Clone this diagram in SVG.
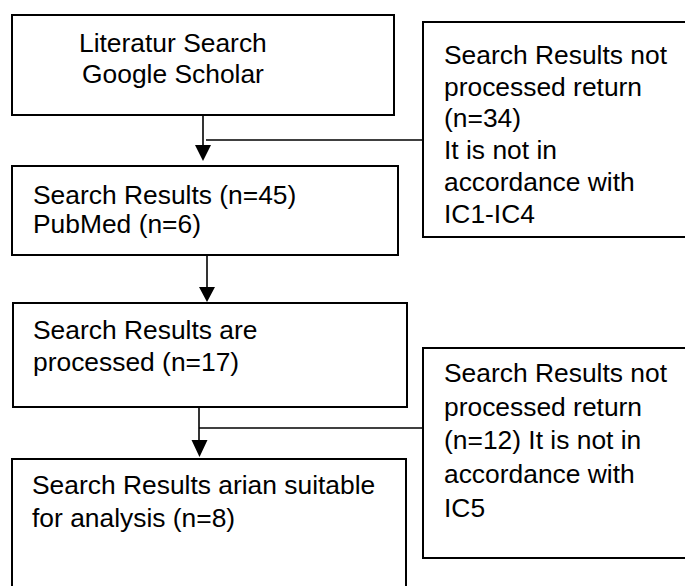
<svg xmlns="http://www.w3.org/2000/svg" width="685" height="586" viewBox="0 0 685 586">
<style>
.box{fill:#fff;stroke:#000;stroke-width:2}
.t{font-family:"Liberation Sans",Arial,sans-serif;font-size:26.4px;fill:#000}
.c{stroke:#000;stroke-width:1.6;fill:none}
.h{fill:#000;stroke:none}
</style>
<rect width="685" height="586" fill="#fff"/>
<g id="n1">
<rect class="box" x="12" y="15" width="382" height="100"/>
<text class="t" x="79" y="52">Literatur Search</text>
<text class="t" x="82" y="83">Google Scholar</text>
</g>
<g id="n2">
<rect class="box" x="12" y="166" width="386" height="89"/>
<text class="t" x="33" y="204">Search Results (n=45)</text>
<text class="t" x="33" y="233">PubMed (n=6)</text>
</g>
<g id="n3">
<rect class="box" x="13" y="303" width="394" height="104"/>
<text class="t" x="33" y="339">Search Results are</text>
<text class="t" x="33" y="371">processed (n=17)</text>
</g>
<g id="n4">
<rect class="box" x="12" y="459" width="394" height="140"/>
<text class="t" x="32" y="494">Search Results arian suitable</text>
<text class="t" x="32" y="527">for analysis (n=8)</text>
</g>
<g id="x1">
<rect class="box" x="423" y="22" width="280" height="215"/>
<text class="t" x="444" y="64">Search Results not</text>
<text class="t" x="444" y="96">processed return</text>
<text class="t" x="444" y="127">(n=34)</text>
<text class="t" x="444" y="159">It is not in</text>
<text class="t" x="444" y="191">accordance with</text>
<text class="t" x="444" y="223">IC1-IC4</text>
</g>
<g id="x2">
<rect class="box" x="423" y="348" width="280" height="210"/>
<text class="t" x="444" y="382">Search Results not</text>
<text class="t" x="444" y="416">processed return</text>
<text class="t" x="444" y="449">(n=12) It is not in</text>
<text class="t" x="444" y="483">accordance with</text>
<text class="t" x="444" y="517">IC5</text>
</g>
<g id="connectors">
<line class="c" x1="203" y1="115" x2="203" y2="146"/>
<polygon class="h" points="195,145 211,145 203,161"/>
<line class="c" x1="206" y1="140" x2="423" y2="140"/>
<line class="c" x1="207" y1="255" x2="207" y2="288"/>
<polygon class="h" points="199,287 215,287 207,302"/>
<line class="c" x1="199" y1="407" x2="199" y2="441"/>
<polygon class="h" points="191.5,440 207.5,440 199.5,457"/>
<line class="c" x1="199" y1="428" x2="423" y2="428"/>
</g>
</svg>
